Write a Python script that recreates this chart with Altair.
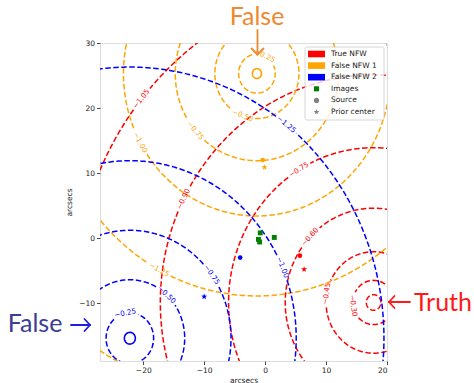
import altair as alt
import numpy as np
import pandas as pd

# ---------------- data ----------------
x_domain = [-27.1, 20]
y_domain = [-18.9, 30]
x_ticks = [-20, -10, 0, 10, 20]
y_ticks = [-10, 0, 10, 20, 30]

series = ["True NFW", "False NFW 1", "False NFW 2"]
series_colors = ["#ff0000", "#ffa500", "#0000ff"]
center_x = [17.8, -1.35, -22.2]
center_y = [-9.9, 25.3, -15.4]

red_levels = [-0.15, -0.30, -0.45, -0.60, -0.75, -0.90, -1.05]
red_radii = [1.2, 3.4, 7.8, 14.5, 23.8, 35.0, 49.3]
red_label_theta = [None, 188, 170, 136, 121, 153, 140.6]

orange_levels = [-0.25, -0.50, -0.75, -1.00, -1.25, -1.50]
orange_radii = [3.0, 6.9, 13.4, 21.9, 34.2, 49.8]
orange_label_theta = [65, 250, 221, 209, 242, None]

blue_levels = [-0.25, -0.50, -0.75, -1.00, -1.25, -1.50]
blue_radii = [3.9, 9.0, 16.6, 27.3, 41.7, 61.8]
blue_label_theta = [101, 48, 36, 23.5, 52, None]

# small solid rings at the false centres
core_series = ["False NFW 1", "False NFW 2"]
core_radii = [0.75, 0.9]

image_x = [-0.8, 1.5, -1.1, -0.9]
image_y = [0.8, 0.1, -0.2, -0.6]

source_series = ["True NFW", "False NFW 1", "False NFW 2"]
source_x = [5.7, -0.4, -4.1]
source_y = [-2.7, 12.0, -3.0]

prior_series = ["True NFW", "False NFW 1", "False NFW 2"]
prior_x = [6.4, -0.1, -10.0]
prior_y = [-4.8, 10.9, -9.0]

legend_labels = ["True NFW", "False NFW 1", "False NFW 2", "Images", "Source", "Prior center"]

# ---------------- layout ----------------
W, H = 287, 318
sx = W / (x_domain[1] - x_domain[0])
sy = H / (y_domain[1] - y_domain[0])
LABEL_FS = 7.2

levels_all = [red_levels, orange_levels, blue_levels]
radii_all = [red_radii, orange_radii, blue_radii]
theta_all = [red_label_theta, orange_label_theta, blue_label_theta]


def fmt(v):
    return ("\u2212" if v < 0 else "") + f"{abs(v):.2f}"


def screen_angle(theta_deg):
    t = np.radians(theta_deg)
    dx = -np.sin(t) * sx
    dy = -np.cos(t) * sy
    a = np.degrees(np.arctan2(dy, dx))
    while a > 90:
        a -= 180
    while a <= -90:
        a += 180
    return a % 360


line_rows = []
label_rows = []
ring_id = 0
for s, col, cx, cy, lvls, rads, ths in zip(series, series_colors, center_x, center_y,
                                           levels_all, radii_all, theta_all):
    for lv, r, th in zip(lvls, rads, ths):
        r_px = r * (sx + sy) / 2
        n = max(90, int(2 * np.pi * r_px / 1.5))
        if th is None:
            t = np.linspace(0, 2 * np.pi, n)
        else:
            txt = fmt(lv)
            half = (len(txt) * 0.6 * LABEL_FS) / 2 + 2.5
            gap = min(half / r_px, 1.3)
            t0 = np.radians(th)
            t = np.linspace(t0 + gap, t0 + 2 * np.pi - gap, n)
            label_rows.append({
                "series": s,
                "x": cx + r * np.cos(t0),
                "y": cy + r * np.sin(t0),
                "text": txt,
                "ang": screen_angle(th),
            })
        for i, tt in enumerate(t):
            line_rows.append({"ring": ring_id, "series": s, "i": i,
                              "x": cx + r * np.cos(tt), "y": cy + r * np.sin(tt)})
        ring_id += 1

core_rows = []
for s, r in zip(core_series, core_radii):
    k = series.index(s)
    t = np.linspace(0, 2 * np.pi, 60)
    for i, tt in enumerate(t):
        core_rows.append({"ring": s, "series": s, "i": i,
                          "x": center_x[k] + r * np.cos(tt), "y": center_y[k] + r * np.sin(tt)})

lines_df = pd.DataFrame(line_rows)
labels_df = pd.DataFrame(label_rows)
core_df = pd.DataFrame(core_rows)
images_df = pd.DataFrame({"x": image_x, "y": image_y})
source_df = pd.DataFrame({"series": source_series, "x": source_x, "y": source_y})
prior_df = pd.DataFrame({"series": prior_series, "x": prior_x, "y": prior_y})

color_scale = alt.Scale(domain=series, range=series_colors)

# star symbol path
ang = np.radians(-90 + 36 * np.arange(10))
rad = np.where(np.arange(10) % 2 == 0, 1.0, 0.42)
STAR = "M" + "L".join(f"{rr*np.cos(a):.3f},{rr*np.sin(a):.3f}" for rr, a in zip(rad, ang)) + "Z"

xs = alt.Scale(domain=x_domain, nice=False, zero=False)
ys = alt.Scale(domain=y_domain, nice=False, zero=False)

axis_common = dict(grid=False, domain=False, tickSize=3.5, tickColor="#333", tickWidth=0.9,
                   labelFont="DejaVu Sans", labelFontSize=7.5, labelColor="#222",
                   labelPadding=2, titleFont="DejaVu Sans", titleFontSize=7.5,
                   titleFontWeight="normal", titleColor="#222")

X = alt.X("x:Q", scale=xs, axis=alt.Axis(values=x_ticks, title="arcsecs", titlePadding=2, **axis_common))
Y = alt.Y("y:Q", scale=ys, axis=alt.Axis(values=y_ticks, title="arcsecs", titlePadding=5, **axis_common))

contours = alt.Chart(lines_df).mark_line(clip=True, strokeWidth=1.5, strokeDash=[5.5, 2.5]).encode(
    x=X, y=Y, color=alt.Color("series:N", scale=color_scale, legend=None),
    detail="ring:N", order="i:Q")

cores = alt.Chart(core_df).mark_line(clip=True, strokeWidth=1.6).encode(
    x=alt.X("x:Q", scale=xs), y=alt.Y("y:Q", scale=ys),
    color=alt.Color("series:N", scale=color_scale, legend=None), detail="ring:N", order="i:Q")

clabels = alt.Chart(labels_df).mark_text(font="DejaVu Sans", fontSize=LABEL_FS, baseline="middle",
                                         align="center").encode(
    x=alt.X("x:Q", scale=xs), y=alt.Y("y:Q", scale=ys), text="text:N",
    angle=alt.Angle("ang:Q", scale=None),
    color=alt.Color("series:N", scale=color_scale, legend=None))

images = alt.Chart(images_df).mark_point(shape="square", filled=True, size=24, color="#008000",
                                         opacity=1).encode(
    x=alt.X("x:Q", scale=xs), y=alt.Y("y:Q", scale=ys))

sources = alt.Chart(source_df).mark_point(shape="circle", filled=True, size=22, opacity=1).encode(
    x=alt.X("x:Q", scale=xs), y=alt.Y("y:Q", scale=ys),
    color=alt.Color("series:N", scale=color_scale, legend=None))

priors = alt.Chart(prior_df).mark_point(shape=STAR, filled=True, size=40, opacity=1).encode(
    x=alt.X("x:Q", scale=xs), y=alt.Y("y:Q", scale=ys),
    color=alt.Color("series:N", scale=color_scale, legend=None))

# ---------------- legend (built by hand, pixel layout) ----------------
leg_top, leg_step = 11, 11.6
leg_df = pd.DataFrame({
    "label": legend_labels,
    "py": [leg_top + leg_step * i for i in range(len(legend_labels))],
    "col": series_colors + ["#008000", "#808080", "#808080"],
    "kind": ["patch"] * 3 + ["square", "circle", "star"],
})
leg_df["py0"] = leg_df["py"] - 3.3
leg_df["py1"] = leg_df["py"] + 3.3
leg_df["px0"] = 208
leg_df["px1"] = 225
leg_df["pxm"] = 216.5
leg_df["pxt"] = 231

box = alt.Chart(pd.DataFrame({"a": [0]})).mark_rect(
    fill="white", fillOpacity=0.8, stroke="#cccccc", strokeWidth=0.8, cornerRadius=2).encode(
    x=alt.value(205), x2=alt.value(284), y=alt.value(4), y2=alt.value(77))

patches = alt.Chart(leg_df).transform_filter(alt.datum.kind == "patch").mark_rect().encode(
    x=alt.X("px0:Q", scale=None), x2="px1:Q", y=alt.Y("py0:Q", scale=None), y2="py1:Q",
    color=alt.Color("col:N", scale=None))


def leg_marker(kind, shape, size):
    return alt.Chart(leg_df).transform_filter(alt.datum.kind == kind).mark_point(
        shape=shape, filled=True, size=size, opacity=1).encode(
        x=alt.X("pxm:Q", scale=None), y=alt.Y("py:Q", scale=None),
        color=alt.Color("col:N", scale=None))


leg_text = alt.Chart(leg_df).mark_text(font="DejaVu Sans", fontSize=7.5, align="left",
                                       baseline="middle", color="#222").encode(
    x=alt.X("pxt:Q", scale=None), y=alt.Y("py:Q", scale=None), text="label:N")

# ---------------- outside annotations ----------------
ann_df = pd.DataFrame({
    "text": ["False", "False", "Truth"],
    "px": [157, -65, 343],
    "py": [-26, 281, 260],
    "col": ["#f0882e", "#3b3d97", "#ff1a1a"],
})
ann = alt.Chart(ann_df).mark_text(font="Lato", fontSize=25, align="center", baseline="middle").encode(
    x=alt.X("px:Q", scale=None), y=alt.Y("py:Q", scale=None), text="text:N",
    color=alt.Color("col:N", scale=None))

arrow_df = pd.DataFrame({
    "x0": [157.5, 151.5, 163.5, -29, -15.5, -15.5, 310, 294.5, 294.5],
    "y0": [-13, 5.5, 5.5, 282, 276, 288, 259, 253, 265],
    "x1": [157.5, 157.5, 157.5, -10, -10, -10, 289, 289, 289],
    "y1": [11.5, 11.5, 11.5, 282, 282, 282, 259, 259, 259],
    "col": ["#f0882e"] * 3 + ["#1f1fe0"] * 3 + ["#ff1a1a"] * 3,
})
arrows = alt.Chart(arrow_df).mark_rule(strokeWidth=1.8, strokeCap="round").encode(
    x=alt.X("x0:Q", scale=None), y=alt.Y("y0:Q", scale=None),
    x2="x1:Q", y2="y1:Q", color=alt.Color("col:N", scale=None))

chart = alt.layer(
    contours, cores, clabels, images, sources, priors,
    box, patches,
    leg_marker("square", "square", 26), leg_marker("circle", "circle", 26), leg_marker("star", STAR, 34),
    leg_text, ann, arrows,
).properties(
    width=W, height=H,
    autosize=alt.AutoSizeParams(type="none"),
    padding={"left": 100, "top": 43, "right": 87, "bottom": 22},
).configure_view(stroke="#444", strokeWidth=1.1).configure(background="white")

chart.save("out.html", embed_options={"renderer": "svg", "actions": False})
